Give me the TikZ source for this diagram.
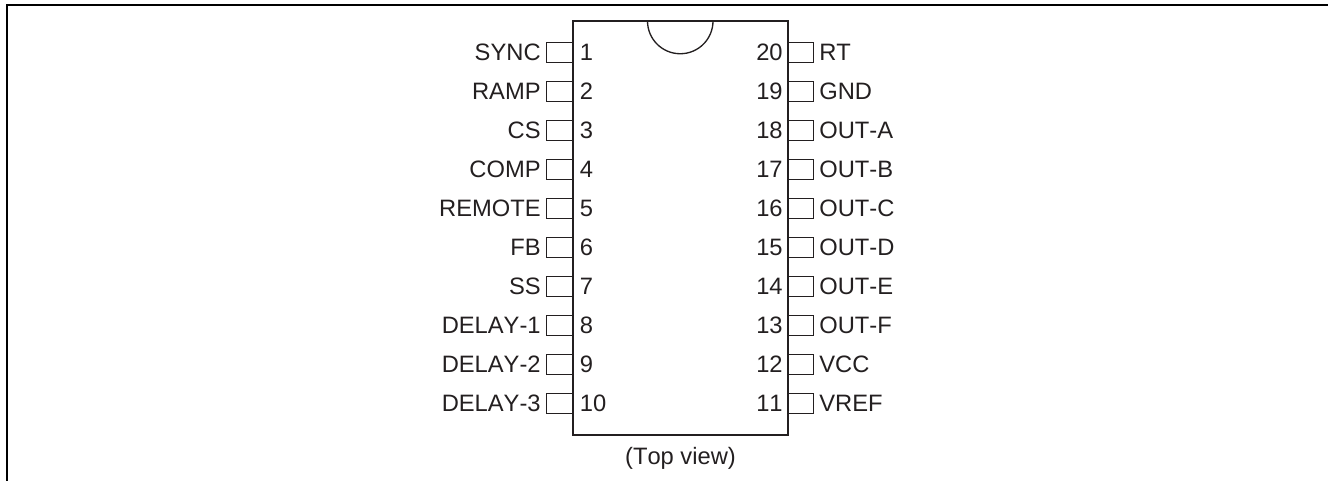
\documentclass[tikz,border=0pt]{standalone}
\usepackage{fontspec}
\setmainfont[Kerning=Off]{Liberation Sans}
\usepackage{tikz}
\definecolor{inkgray}{HTML}{231F20}
\tikzset{
    pinbox/.style = {draw = inkgray, line width = 0.75pt, minimum width = 0.51cm, minimum height = 0.39cm, inner sep = 0pt},
    pintext/.style = {text = inkgray, font = \fontsize{13.5}{15}\selectfont, inner sep = 0pt}
}
% number, height, label
\newcommand{\leftpin}[3]{
    \draw (11.19,#2) node[pinbox] (boxl#1) {};
    \draw (11.59,#2) node[pintext, anchor = west] (numl#1) {#1};
    \draw (10.82,#2) node[pintext, anchor = east] (labl#1) {#3};
}
\newcommand{\rightpin}[3]{
    \draw (16.01,#2) node[pinbox] (boxr#1) {};
    \draw (15.66,#2) node[pintext, anchor = east] (numr#1) {#1};
    \draw (16.38,#2) node[pintext, anchor = west] (labr#1) {#3};
}

\begin{document}
\begin{tikzpicture}
        \useasboundingbox (0,0) rectangle (26.56,9.62);
        \draw[line width = 1.15pt] (0.14,0) -- (0.14,9.51) -- (26.56,9.51);
        \draw (13.61,5.06) node[draw = inkgray, line width = 0.75pt, minimum width = 4.3cm, minimum height = 8.28cm, inner sep = 0pt] (body) {};
        \draw[inkgray, line width = 0.75pt] (12.95,9.2) arc (180:360:0.655);
        \leftpin{1}{8.57}{SYNC}
        \leftpin{2}{7.79}{RAMP}
        \leftpin{3}{7.01}{CS}
        \leftpin{4}{6.23}{COMP}
        \leftpin{5}{5.45}{REMOTE}
        \leftpin{6}{4.67}{FB}
        \leftpin{7}{3.89}{SS}
        \leftpin{8}{3.11}{DELAY-1}
        \leftpin{9}{2.33}{DELAY-2}
        \leftpin{10}{1.55}{DELAY-3}
        \rightpin{20}{8.57}{RT}
        \rightpin{19}{7.79}{GND}
        \rightpin{18}{7.01}{OUT-A}
        \rightpin{17}{6.23}{OUT-B}
        \rightpin{16}{5.45}{OUT-C}
        \rightpin{15}{4.67}{OUT-D}
        \rightpin{14}{3.89}{OUT-E}
        \rightpin{13}{3.11}{OUT-F}
        \rightpin{12}{2.33}{VCC}
        \rightpin{11}{1.55}{VREF}
        \draw (13.61,0.46) node[pintext] (view) {(Top view)};
    \end{tikzpicture}
\end{document}
